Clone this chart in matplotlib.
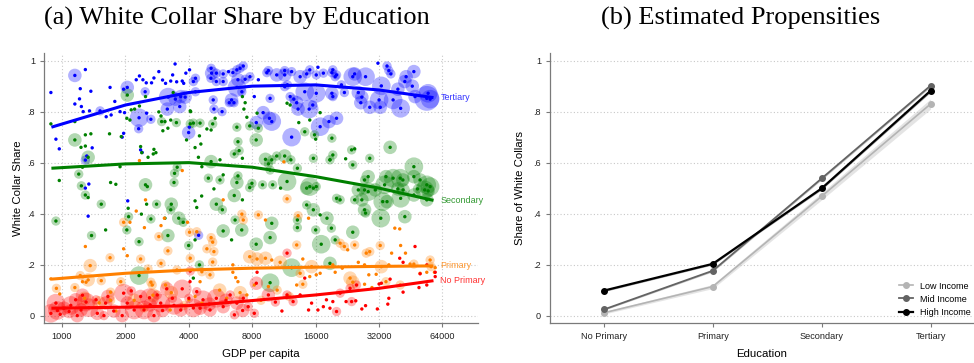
import matplotlib.pyplot as plt
from matplotlib.ticker import NullLocator
import numpy as np

plt.rcParams['font.family'] = ['Liberation Sans', 'DejaVu Sans']

# (gdp per capita, white collar share, weight class) by education group
tertiary = [
    (885, .875, 0), (1150, .942, 2), (1290, .965, 0), (1220, .89, 0), (1370, .88, 0),
    (1210, .85, 0), (1150, .83, 0), (1235, .82, 0), (1260, .80, 0), (1350, .803, 0),
    (1515, .803, 1), (1780, .84, 0), (1690, .895, 0), (1620, .78, 0), (1710, .787, 0),
    (1885, .80, 0), (1980, .796, 0), (2040, .895, 2), (1960, .888, 0), (2250, .925, 0),
    (2330, .94, 0), (2420, .925, 0), (2510, .913, 0), (2480, .878, 1), (2660, .913, 0),
    (2730, .932, 0), (2880, .957, 0), (2320, .776, 3), (2640, .77, 1), (2310, .733, 1),
    (2520, .794, 0), (1960, .715, 0), (1930, .70, 0), (935, .692, 0), (970, .654, 0),
    (1390, .658, 0), (1310, .626, 0), (1290, .61, 1), (1290, .50, 0), (1340, .516, 0),
    (2360, .65, 0), (2400, .64, 0), (3000, .924, 0), (3100, .911, 0), (3280, .92, 0),
    (3350, .944, 0), (3440, .987, 0), (3500, .917, 0), (3720, .92, 0), (3780, .911, 0),
    (3870, .951, 0), (4030, .964, 0), (3190, .857, 3), (3450, .849, 2), (3660, .859, 2),
    (3840, .857, 2), (3160, .81, 2), (3620, .82, 2), (3990, .718, 2), (4020, .739, 0),
    (5100, .97, 1), (5130, .951, 2), (5090, .931, 1), (5400, .951, 1), (5400, .918, 1),
    (5820, .948, 1), (5820, .918, 1), (6170, .957, 0), (6470, .953, 1), (6760, .964, 1),
    (7000, .97, 1), (7250, .979, 1), (6840, .925, 2), (7400, .927, 1), (7800, .937, 1),
    (8550, .925, 0), (6770, .895, 3), (4300, .931, 1), (4200, .918, 1), (4300, .878, 1),
    (5220, .846, 1), (5260, .81, 1), (5750, .80, 1), (6380, .846, 2), (6220, .835, 1),
    (6550, .835, 1), (7140, .878, 1), (8180, .859, 0), (9720, .852, 1), (8360, .757, 2),
    (9900, .761, 3), (9010, .796, 2), (9650, .774, 2), (9540, .961, 1), (9380, .953, 1),
    (10450, .944, 2), (11400, .961, 1), (11400, .944, 2), (11750, .905, 1), (12300, .957, 1),
    (13500, .937, 2), (14500, .948, 1), (15000, .964, 1), (16400, .974, 0), (16100, .944, 1),
    (17400, .951, 1), (19100, .953, 1), (14200, .878, 3), (16100, .872, 3), (12100, .859, 1),
    (12600, .849, 1), (13000, .835, 2), (13200, .81, 2), (14900, .81, 3), (15500, .826, 1),
    (12300, .70, 3), (16800, .741, 3), (18500, .761, 2), (11400, .898, 1), (19300, .964, 1),
    (19800, .937, 1), (19100, .872, 2), (19300, .859, 1), (20100, .944, 1), (21200, .905, 1),
    (21900, .875, 1), (24000, .937, 3), (24500, .948, 2), (27600, .937, 3), (25500, .875, 2),
    (26500, .857, 2), (26200, .835, 2), (28900, .817, 2), (31600, .99, 0), (34900, .979, 1),
    (35600, .961, 1), (36400, .948, 1), (32800, .901, 3), (32000, .846, 3), (32400, .817, 2),
    (37300, .846, 3), (39300, .888, 2), (40500, .813, 3), (42400, .918, 2), (43000, .937, 2),
    (46800, .957, 2), (46000, .90, 2), (47400, .859, 2), (53900, .852, 4), (55900, .849, 3),
    (54700, .872, 3), (20100, .774, 2), (1330, .39, 0), (2050, .45, 0), (4450, .315, 1),
]

secondary = [
    (885, .752, 0), (1150, .689, 2), (1150, .761, 0), (1290, .709, 0), (1370, .713, 0),
    (1230, .66, 0), (1290, .665, 0), (1330, .621, 2), (1250, .582, 0), (1200, .555, 1),
    (970, .53, 0), (1235, .509, 1), (1680, .713, 0), (1910, .702, 0), (2040, .865, 2),
    (1885, .584, 0), (1700, .522, 0), (1800, .515, 0), (2360, .663, 0), (2390, .639, 0),
    (2730, .652, 0), (2710, .634, 0), (2790, .639, 0), (2560, .621, 0), (2490, .513, 2),
    (2030, .774, 0), (2100, .767, 0), (2130, .807, 0), (2210, .81, 0), (2330, .822, 0),
    (2490, .859, 0), (2880, .799, 0), (2950, .783, 0), (2970, .761, 1), (3080, .761, 0),
    (3280, .767, 0), (3010, .725, 0), (3180, .735, 0), (3490, .757, 1), (3370, .875, 0),
    (4060, .752, 1), (3900, .689, 0), (4080, .80, 0), (3420, .558, 1), (3520, .582, 1),
    (3400, .522, 1), (4060, .803, 0), (4200, .755, 1), (4520, .755, 1), (4870, .732, 0),
    (5190, .752, 1), (5330, .774, 0), (5100, .728, 0), (4560, .673, 0), (4490, .705, 0),
    (4280, .659, 0), (4440, .621, 0), (5100, .604, 2), (5620, .611, 0), (4610, .584, 0),
    (4950, .539, 1), (5620, .532, 1), (6760, .522, 2), (6570, .634, 1), (6930, .647, 1),
    (7180, .617, 0), (6840, .682, 1), (6760, .739, 1), (7180, .859, 0), (7400, .835, 0),
    (7300, .81, 0), (7780, .744, 1), (7540, .778, 0), (8430, .794, 0), (8350, .689, 2),
    (8550, .735, 1), (9240, .613, 2), (9540, .595, 1), (9900, .611, 1), (9720, .571, 1),
    (10450, .626, 1), (11400, .626, 2), (12200, .611, 1), (13100, .578, 1), (11700, .526, 3),
    (10000, .513, 1), (8950, .513, 1), (7970, .519, 1), (6840, .548, 1), (5820, .552, 0),
    (14200, .721, 1), (15800, .709, 1), (16000, .692, 0), (15600, .617, 1), (18700, .611, 1),
    (15000, .767, 0), (16800, .796, 0), (13300, .757, 0), (12100, .826, 0), (11700, .833, 0),
    (15000, .506, 3), (16100, .506, 1), (19100, .696, 1), (19300, .63, 1), (18700, .611, 0),
    (22200, .615, 0), (23700, .65, 1), (24500, .654, 0), (24000, .591, 1), (28900, .617, 1),
    (36100, .66, 2), (46800, .584, 3), (28400, .545, 2), (27300, .532, 1), (34500, .545, 2),
    (37300, .539, 3), (40300, .539, 3), (41500, .532, 2), (46800, .545, 2), (50100, .532, 2),
    (53900, .513, 3), (55900, .506, 3), (34000, .513, 3), (25500, .493, 2), (27300, .493, 1),
    (28400, .486, 3), (30700, .493, 2), (26500, .454, 2), (24500, .454, 1), (33300, .447, 3),
    (34900, .447, 2), (39300, .497, 2), (40500, .46, 3), (41600, .493, 2), (48700, .497, 1),
    (52700, .493, 3), (54700, .489, 2), (53900, .454, 2), (46800, .473, 2), (20900, .454, 1),
    (20100, .46, 1), (27300, .415, 2), (27600, .402, 1), (32600, .382, 3), (42400, .388, 2),
    (24000, .327, 2), (19000, .343, 1), (19800, .297, 1), (18700, .205, 2), (5260, .497, 0),
    (4600, .469, 0), (4280, .45, 0), (4360, .424, 0), (6570, .471, 2), (7180, .454, 0),
    (5400, .437, 2), (5770, .415, 1), (6630, .375, 1), (9900, .362, 2), (7130, .336, 2),
    (5820, .332, 2), (6380, .297, 0), (8350, .28, 2), (9720, .306, 2), (10900, .50, 0),
    (14500, .50, 2), (15600, .50, 0), (14500, .434, 1), (15600, .415, 2), (16800, .395, 0),
    (18100, .382, 2), (13100, .375, 1), (13100, .345, 1), (16000, .336, 1), (17000, .28, 3),
    (12300, .188, 3), (9720, .129, 3), (4490, .199, 1), (4200, .147, 0), (4280, .297, 0),
    (7780, .502, 1), (935, .371, 1), (1290, .473, 1), (1330, .463, 0), (1535, .437, 1),
    (1380, .314, 1), (1610, .336, 0), (2060, .421, 0), (2070, .388, 1), (2030, .336, 1),
    (2380, .398, 0), (2520, .437, 0), (2810, .437, 1), (2640, .379, 1), (2320, .29, 1),
    (3300, .437, 2), (3280, .415, 1), (3080, .382, 0), (3180, .314, 2), (3580, .382, 2),
    (3760, .366, 1), (3990, .275, 1), (2320, .157, 3), (2540, .506, 0),
]

primary = [
    (885, .144, 0), (940, .107, 1), (975, .085, 0), (1290, .271, 0), (1220, .157, 1),
    (1250, .133, 0), (1300, .131, 0), (1330, .14, 2), (1360, .196, 2), (1150, .11, 1),
    (1535, .137, 1), (1690, .227, 1), (1700, .092, 1), (1900, .133, 1), (1960, .262, 0),
    (2040, .235, 0), (1960, .366, 1), (2100, .366, 0), (2250, .41, 0), (2490, .454, 0),
    (2460, .345, 0), (2360, .222, 1), (2560, .183, 1), (2640, .131, 1), (2880, .31, 1),
    (2950, .205, 1), (3060, .382, 0), (2950, .353, 0), (3180, .254, 1), (3510, .179, 1),
    (3940, .366, 0), (4030, .327, 1), (4060, .225, 1), (2680, .12, 1), (1280, .068, 2),
    (1800, .018, 0), (3260, .022, 0), (4000, .062, 0), (5820, .454, 0), (7140, .398, 1),
    (7250, .375, 1), (8550, .395, 1), (9240, .375, 0), (11700, .458, 1), (13200, .392, 1),
    (14800, .382, 0), (5100, .306, 1), (5190, .288, 1), (4360, .329, 1), (4870, .262, 1),
    (5260, .251, 1), (5190, .21, 1), (4610, .172, 1), (5040, .16, 1), (4520, .133, 0),
    (6470, .199, 0), (6470, .17, 0), (6670, .149, 0), (7780, .231, 2), (8430, .222, 2),
    (9240, .225, 2), (9900, .218, 0), (10850, .209, 2), (13000, .277, 1), (13900, .222, 0),
    (15300, .192, 2), (13500, .166, 1), (15000, .153, 0), (16100, .16, 0), (16800, .166, 0),
    (8180, .12, 0), (9540, .114, 0), (6840, .133, 0), (13000, .12, 0), (13900, .123, 1),
    (7540, .081, 0), (6040, .068, 0), (4280, .075, 0), (4610, .049, 0), (38000, .343, 0),
    (40100, .34, 0), (21900, .271, 1), (22700, .258, 0), (24500, .277, 1), (32400, .275, 1),
    (36700, .245, 0), (40500, .275, 0), (42700, .245, 0), (27800, .245, 1), (28900, .251, 1),
    (20900, .284, 1), (25500, .209, 0), (27300, .199, 0), (32800, .192, 2), (35600, .199, 0),
    (44900, .202, 0), (46800, .202, 1), (55900, .218, 1), (56500, .192, 1), (50100, .166, 0),
    (53900, .17, 0), (58600, .17, 0), (59100, .188, 0), (28600, .16, 0), (31000, .162, 0),
    (23300, .147, 2), (24000, .131, 2), (27300, .123, 0), (40300, .12, 1), (34500, .133, 1),
    (29600, .11, 0), (21400, .186, 0), (19800, .17, 0), (19300, .199, 0), (11300, .603, 0),
    (2330, .608, 0), (3720, .569, 0), (1500, .05, 2), (2200, .06, 2), (2700, .08, 2),
    (3300, .09, 2), (3800, .04, 1), (2450, .03, 1), (1700, .06, 1), (5600, .10, 2),
    (7000, .09, 2), (8800, .06, 1), (10500, .10, 1), (12000, .075, 1), (3100, .12, 1),
]

no_primary = [
    (935, .049, 3), (885, .009, 3), (980, .005, 0), (1080, .016, 2), (1160, .062, 2),
    (1300, .053, 3), (1230, .022, 2), (1340, .031, 3), (1450, .062, 1), (1470, .009, 2),
    (1610, .049, 2), (1760, .018, 2), (1960, .088, 3), (2040, .049, 2), (2200, .022, 3),
    (2130, .097, 1), (2360, .075, 2), (2450, .022, 3), (2620, .042, 2), (2830, .081, 1),
    (2940, .049, 3), (3140, .105, 2), (3340, .068, 1), (3720, .105, 3), (3660, .022, 2),
    (4000, .068, 1), (4060, .175, 1), (1020, .029, 2), (1180, .0, 2), (1930, .0, 2),
    (2730, .0, 2), (1580, .0, 1), (4050, .133, 0), (4360, .094, 1), (4670, .062, 3),
    (4520, .029, 2), (5040, .022, 2), (5400, .068, 3), (5820, .035, 2), (6280, .081, 1),
    (6760, .049, 2), (7250, .068, 1), (7650, .035, 1), (8360, .127, 2), (8430, .17, 0),
    (9540, .081, 2), (10300, .053, 1), (11060, .018, 0), (11700, .081, 1), (11700, .245, 1),
    (12500, .055, 1), (13500, .081, 0), (14200, .147, 0), (14800, .022, 0), (15300, .049, 0),
    (16400, .022, 0), (17400, .035, 0), (18000, .062, 0), (18700, .029, 0), (8180, .009, 1),
    (6580, .003, 1), (47400, .271, 0), (40100, .225, 0), (41600, .209, 0), (53900, .199, 0),
    (50100, .164, 0), (59100, .17, 0), (59100, .153, 0), (36100, .143, 0), (32000, .124, 0),
    (32800, .127, 0), (49500, .11, 0), (53900, .12, 0), (41600, .092, 0), (35600, .068, 0),
    (35200, .045, 0), (31400, .026, 0), (26500, .026, 0), (27600, .039, 0), (22300, .055, 0),
    (23700, .055, 1), (24800, .058, 0), (20900, .088, 1), (23300, .107, 1), (25000, .12, 1),
    (20100, .016, 1), (19300, .055, 0), (1100, .04, 3), (1250, .08, 2), (1650, .075, 2),
    (2600, .07, 3), (3000, .02, 2), (3400, .04, 3), (4200, .03, 3), (5000, .045, 2),
    (6000, .06, 2), (7200, .02, 2), (950, .02, 3),
]

# quadratic fit lines, read at these gdp levels
fit_gdp = [890, 2000, 4000, 8000, 16000, 32000, 58000]
tertiary_fit = [.739, .826, .875, .900, .905, .885, .855]
secondary_fit = [.578, .595, .600, .582, .545, .500, .452]
primary_fit = [.143, .166, .179, .186, .190, .193, .195]
no_primary_fit = [.029, .033, .039, .059, .081, .107, .137]

gdp_ticks = [1000, 2000, 4000, 8000, 16000, 32000, 64000]
share_ticks = [0, .2, .4, .6, .8, 1]
share_labels = ['0', '.2', '.4', '.6', '.8', '1']

# panel (b): estimated propensities by income group
edu_levels = ['No Primary', 'Primary', 'Secondary', 'Tertiary']
low_income = [.011, .114, .468, .830]
mid_income = [.024, .176, .538, .902]
high_income = [.098, .203, .499, .882]
low_ci = [.005, .008, .014, .02]
mid_ci = [.003, .004, .005, .005]
high_ci = [.004, .004, .005, .006]

series = [
    ('Tertiary', tertiary, tertiary_fit, '#0000ff'),
    ('Secondary', secondary, secondary_fit, '#008000'),
    ('Primary', primary, primary_fit, '#ff8000'),
    ('No Primary', no_primary, no_primary_fit, '#ff0000'),
]
halo_size = [0, 45, 95, 180, 320]

axis_gray = '#7a7a7a'
grid_kw = dict(color='#c8c8c8', linestyle=(0, (1, 2)), linewidth=0.8)

fig = plt.figure(figsize=(9.74, 3.63), dpi=100)
ax1 = fig.add_axes([0.0452, 0.1102, 0.4456, 0.7438])
ax2 = fig.add_axes([0.5647, 0.1102, 0.4343, 0.7438])

for ax in (ax1, ax2):
    for side in ('top', 'right'):
        ax.spines[side].set_visible(False)
    for side in ('left', 'bottom'):
        ax.spines[side].set_color(axis_gray)
        ax.spines[side].set_linewidth(0.9)
    ax.tick_params(colors=axis_gray, labelcolor='#222222', labelsize=6.6,
                   length=3, width=0.8)
    ax.set_ylim(-0.029, 1.03)
    ax.set_yticks(share_ticks)
    ax.set_yticklabels(share_labels)
    ax.set_axisbelow(True)

# panel (a)
ax1.set_xscale('log', base=2)
ax1.set_xlim(821, 94400)
ax1.set_xticks(gdp_ticks)
ax1.set_xticklabels([str(g) for g in gdp_ticks])
ax1.xaxis.set_minor_locator(NullLocator())
ax1.grid(True, axis='both', **grid_kw)

for name, pts, fit, col in series:
    g = np.array([p[0] for p in pts], dtype=float)
    s = np.array([p[1] for p in pts])
    w = np.array([halo_size[p[2]] for p in pts])
    ax1.scatter(g, s, s=w, color=col, alpha=0.3, edgecolors='none', zorder=2)
    ax1.scatter(g, s, s=6, color=col, edgecolors='none', zorder=3)

for name, pts, fit, col in series:
    ax1.plot(fit_gdp, fit, color=col, lw=2.2, solid_capstyle='butt', zorder=4)
    ax1.annotate(name, (fit_gdp[-1], fit[-1]), xytext=(5, 0),
                 textcoords='offset points', va='center', ha='left',
                 color=col, fontsize=6.5, alpha=0.8)

ax1.set_xlabel('GDP per capita', fontsize=8.2, labelpad=6)
ax1.set_ylabel('White Collar Share', fontsize=8.2, labelpad=3)

# panel (b)
x = np.arange(1, 5)
ax2.set_xlim(0.505, 4.39)
ax2.set_xticks(x)
ax2.set_xticklabels(edu_levels)
ax2.grid(True, axis='y', **grid_kw)

groups = [
    ('Low Income', low_income, low_ci, '#b4b4b4', 1.2),
    ('Mid Income', mid_income, mid_ci, '#636363', 1.3),
    ('High Income', high_income, high_ci, '#000000', 1.6),
]
for label, vals, ci, col, lw in groups:
    vals = np.array(vals)
    ci = np.array(ci)
    ax2.fill_between(x, vals - ci, vals + ci, color=col, alpha=0.35,
                     lw=0, zorder=2)
    ax2.plot(x, vals, color=col, lw=lw, marker='o', markersize=4,
             label=label, zorder=3)

ax2.legend(loc='lower right', bbox_to_anchor=(1.01, 0.0), frameon=False,
           fontsize=6.5, handlelength=1.6, handletextpad=0.8,
           labelspacing=0.45, borderaxespad=0.3)
ax2.set_xlabel('Education', fontsize=8.2, labelpad=6)
ax2.set_ylabel('Share of White Collars', fontsize=8.2, labelpad=6)

fig.text(0.243, 0.950, '(a) White Collar Share by Education',
         family='Liberation Serif', fontsize=19, ha='center', va='center')
fig.text(0.760, 0.950, '(b) Estimated Propensities',
         family='Liberation Serif', fontsize=19, ha='center', va='center')

fig.savefig('out.png', dpi=100)
